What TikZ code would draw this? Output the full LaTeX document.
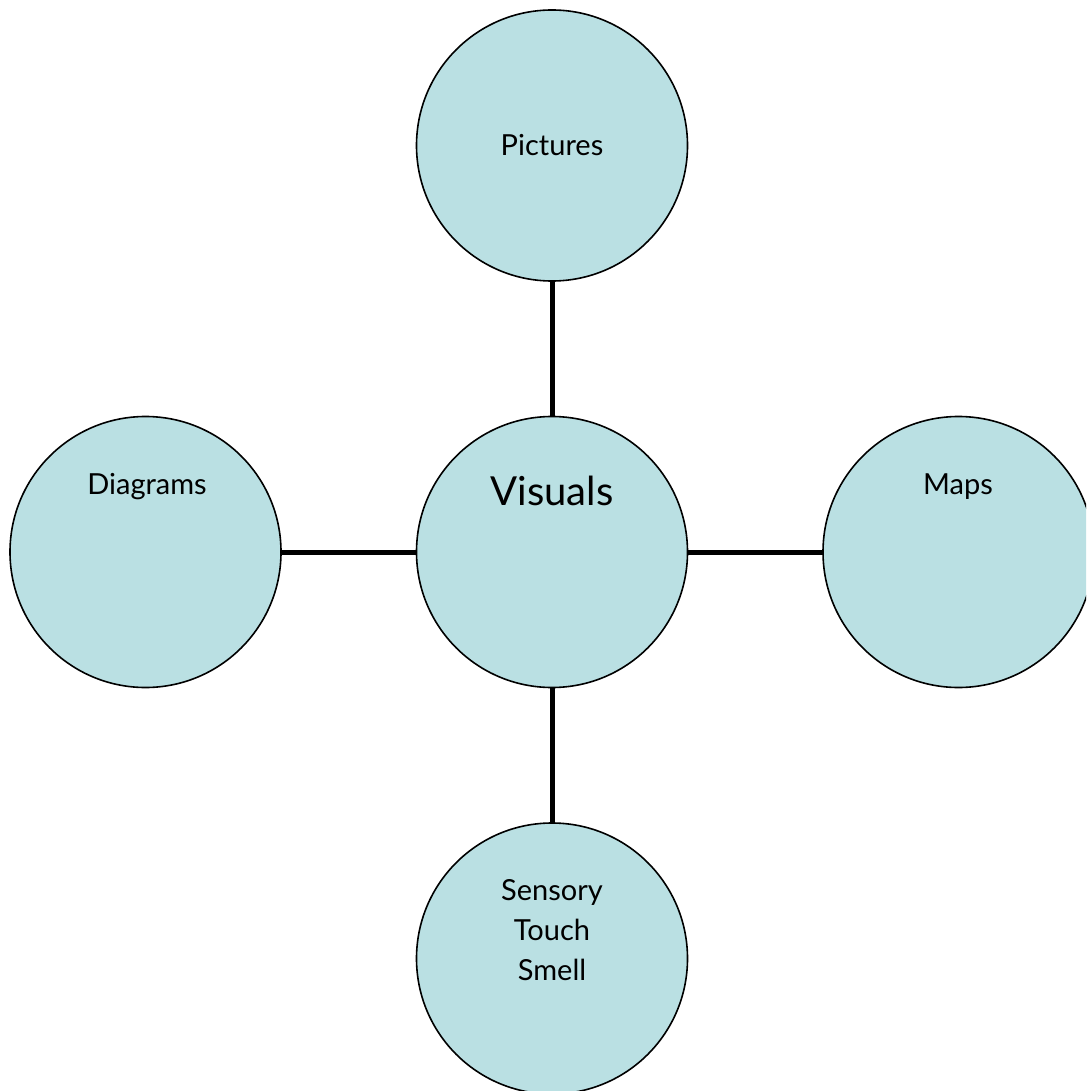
\documentclass[tikz,border=0pt]{standalone}
\usepackage{fontspec}
\setmainfont{Lato}
\definecolor{bubble}{HTML}{BAE0E3}
\begin{document}
\begin{tikzpicture}[x=1pt,y=-1pt,
  bub/.style={circle,draw=black,line width=1.6pt,fill=bubble,minimum size=271pt,inner sep=0pt},
  lbl/.style={font=\fontsize{29}{40}\selectfont,align=center},
  conn/.style={line width=5pt}]
\useasboundingbox (0,0) rectangle (1086,1091);
\clip (0,0) rectangle (1086,1091);
\node[bub] (c) at (552,552) {};
\node[bub] (t) at (552,145.5) {};
\node[bub] (l) at (145.5,552) {};
\node[bub] (r) at (958.5,552) {};
\node[bub] (b) at (552,958.5) {};
\draw[conn] (c.north) -- (t.south);
\draw[conn] (c.south) -- (b.north);
\draw[conn] (c.west) -- (l.east);
\draw[conn] (c.east) -- (r.west);
\node[lbl,font=\fontsize{40}{44}\selectfont] (tc) at (552,491) {Visuals};
\node[lbl] (tt) at (552,145) {Pictures};
\node[lbl] (tl) at (147,487) {Diagrams};
\node[lbl] (tr) at (958,487) {Maps};
\node[lbl] (tb) at (552,930) {Sensory\\Touch\\Smell};
\end{tikzpicture}
\end{document}
